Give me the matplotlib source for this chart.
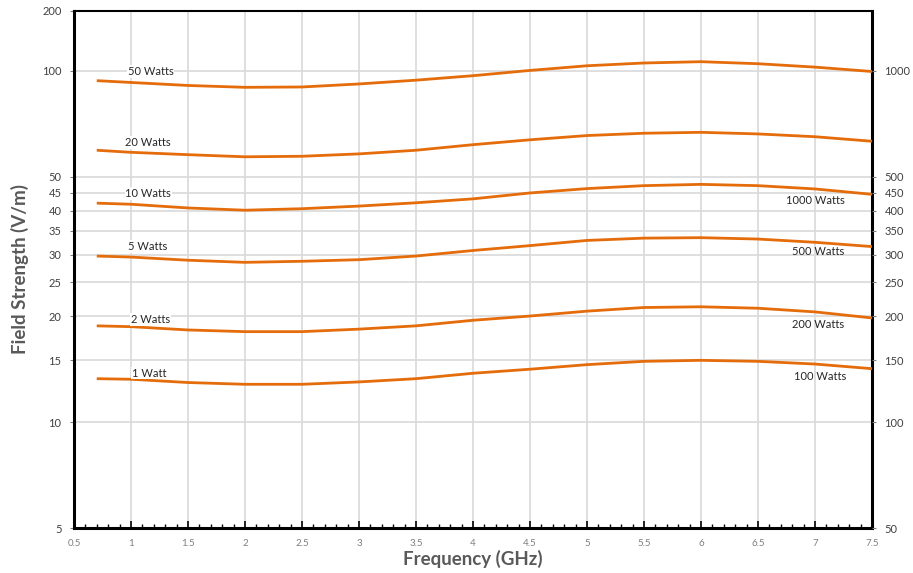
import matplotlib
matplotlib.use("Agg")
import matplotlib.pyplot as plt
from matplotlib.ticker import FixedLocator, MultipleLocator, NullFormatter, NullLocator

plt.rcParams['font.family'] = ['Lato', 'DejaVu Sans']

# frequency points (GHz)
freq = [0.7, 1.0, 1.5, 2.0, 2.5, 3.0, 3.5, 4.0, 4.5, 5.0, 5.5, 6.0, 6.5, 7.0, 7.5]

# field strength (V/m)
w50 = [93.7, 92.6, 90.8, 89.7, 89.9, 91.7, 94.0, 96.8, 100.2, 103.3, 105.2, 106.1, 104.7, 102.4, 99.5]
w20 = [59.4, 58.6, 57.7, 56.9, 57.1, 58.0, 59.4, 61.6, 63.6, 65.4, 66.4, 66.8, 66.1, 64.9, 63.0]
w10 = [42.0, 41.7, 40.7, 40.1, 40.5, 41.2, 42.1, 43.2, 44.9, 46.2, 47.1, 47.5, 47.1, 46.1, 44.5]
w5 = [29.7, 29.5, 28.9, 28.5, 28.7, 29.0, 29.7, 30.8, 31.8, 32.9, 33.4, 33.5, 33.2, 32.5, 31.6]
w2 = [18.8, 18.7, 18.3, 18.1, 18.1, 18.4, 18.8, 19.5, 20.05, 20.7, 21.2, 21.3, 21.1, 20.6, 19.8]
w1 = [13.3, 13.25, 12.97, 12.82, 12.82, 13.02, 13.3, 13.78, 14.15, 14.58, 14.9, 15.0, 14.9, 14.64, 14.2]
series = [w50, w20, w10, w5, w2, w1]

left_labels = ["50 Watts", "20 Watts", "10 Watts", "5 Watts", "2 Watts", "1 Watt"]
right_labels = ["1000 Watts", "500 Watts", "200 Watts", "100 Watts"]

left_ticks = [5, 10, 15, 20, 25, 30, 35, 40, 45, 50, 100]
right_ticks = [50, 100, 150, 200, 250, 300, 350, 400, 450, 500, 1000]
x_ticks = [0.5, 1, 1.5, 2, 2.5, 3, 3.5, 4, 4.5, 5, 5.5, 6, 6.5, 7, 7.5]

# label anchor positions (data coords)
left_pos = [(0.97, 99.4), (0.95, 62.5), (0.95, 44.7), (0.97, 31.6), (1.0, 19.6), (1.01, 13.8)]
right_pos = [(6.75, 42.7), (6.80, 30.6), (6.80, 19.0), (6.82, 13.5)]

orange = '#E46C0A'
gray = '#595959'
grid_c = '#d9d9d9'
ytop = 148

fig = plt.figure(figsize=(9.13, 5.73), dpi=100)
ax = fig.add_axes([0.081, 0.0785, 0.874, 0.9025])

ax.set_yscale('log')
ax.set_xlim(0.5, 7.5)
ax.set_ylim(5, ytop)

for ys in series:
    ax.plot(freq, ys, color=orange, lw=2.0, solid_capstyle='butt', zorder=3)

# grid
for t in left_ticks[1:]:
    ax.axhline(t, color=grid_c, lw=1.2, zorder=1)
for t in x_ticks[1:-1]:
    ax.axvline(t, color=grid_c, lw=1.2, zorder=1)

for txt, (x, y) in zip(left_labels, left_pos):
    ax.text(x, y, txt, fontsize=8, color='#262626', ha='left', va='center', zorder=4,
            bbox=dict(facecolor='white', edgecolor='none', pad=0.5))
for txt, (x, y) in zip(right_labels, right_pos):
    ax.text(x, y, txt, fontsize=8, color='#262626', ha='left', va='center', zorder=4)

# left y axis
ax.yaxis.set_major_locator(FixedLocator(left_ticks + [ytop]))
ax.yaxis.set_minor_locator(NullLocator())
ax.yaxis.set_minor_formatter(NullFormatter())
ax.set_yticklabels([str(t) for t in left_ticks] + ['200'])
ax.tick_params(axis='y', which='major', length=3, width=0.8, color='#808080',
               labelsize=8, labelcolor='#404040', pad=6)

# x axis
ax.set_xticks(x_ticks)
ax.set_xticklabels([('%g' % t) for t in x_ticks])
ax.xaxis.set_minor_locator(MultipleLocator(0.1))
ax.tick_params(axis='x', which='major', direction='in', length=5, width=1.2,
               labelsize=7, labelcolor='#7f7f7f', pad=8)
ax.tick_params(axis='x', which='minor', direction='in', length=3, width=1.0)

ax.set_xlabel('Frequency (GHz)', fontsize=13.5, fontweight='bold', color=gray, labelpad=1)
ax.set_ylabel('Field Strength (V/m)', fontsize=13.5, fontweight='bold', color=gray, labelpad=9)

for s in ['left', 'bottom', 'right']:
    ax.spines[s].set_linewidth(2.2)
    ax.spines[s].set_color('black')
ax.spines['top'].set_linewidth(1.5)

# right y axis (amplifier power scale)
ax2 = ax.twinx()
ax2.set_yscale('log')
ax2.set_ylim(50, ytop * 10)
ax2.yaxis.set_major_locator(FixedLocator(right_ticks))
ax2.yaxis.set_minor_locator(NullLocator())
ax2.yaxis.set_minor_formatter(NullFormatter())
ax2.set_yticklabels([str(t) for t in right_ticks])
ax2.tick_params(axis='y', which='major', length=3, width=0.8, color='#808080',
                labelsize=8, labelcolor='#404040', pad=6)
for s in ax2.spines.values():
    s.set_visible(False)

fig.savefig('out.png', dpi=100)
